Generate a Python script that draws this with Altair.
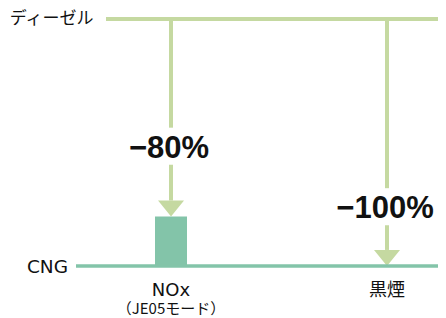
import altair as alt
import pandas as pd

# ---- data ----
categories = ["NOx", "黒煙"]
sub_labels = ["（JE05モード）", ""]
diesel_values = [100, 100]
cng_values = [20, 0]
reduction_labels = ["−80%", "−100%"]
series_names = ["ディーゼル", "CNG"]
series_levels = [100, 0]

# ---- layout constants (value units on the y scale) ----
label_y = [47.5, 23]
GAP = 7.5
ARROW_H = 6.5

DIESEL = "#c5d9a1"
CNG = "#83c4a9"
JP = "Noto Sans CJK JP"
LAT = "DejaVu Sans"
BOLD = "Liberation Sans"
TXT = "#111111"

df = pd.DataFrame({
    "cat": categories,
    "pos": list(range(len(categories))),
    "sub": sub_labels,
    "diesel": diesel_values,
    "cng": cng_values,
    "label": reduction_labels,
    "label_y": label_y,
})
df["seg1_end"] = df["label_y"] + 1 + GAP
df["seg2_start"] = df["label_y"] + 1 - GAP
df["arrow_base"] = df["cng"] + ARROW_H

series = pd.DataFrame({"name": series_names, "level": series_levels})

W, H = 430, 310
xs = alt.Scale(domain=[0, 1], range=[163, 379], padding=0, nice=False, zero=False)
ys = alt.Scale(domain=[0, 100], range=[258, 11], padding=0, nice=False)


def X(f):
    return alt.X(f, scale=xs, axis=None)


def Y(f):
    return alt.Y(f, scale=ys, axis=None)


base = alt.Chart(df)
diesel_s = alt.Chart(series[series["name"] == "ディーゼル"])
cng_s = alt.Chart(series[series["name"] == "CNG"])

diesel_line = diesel_s.mark_rule(color=DIESEL, strokeWidth=4).encode(
    x=alt.value(98), x2=alt.value(W), y=Y("level:Q"))

cng_line = cng_s.mark_rule(color=CNG, strokeWidth=3.5).encode(
    x=alt.value(68), x2=alt.value(W), y=Y("level:Q"))

diesel_text = diesel_s.mark_text(
    align="right", baseline="middle", fontSize=17, font=JP, color=TXT
).encode(x=alt.value(85.5), y=Y("level:Q"), text="name:N")

cng_text = cng_s.mark_text(
    align="right", baseline="middle", fontSize=18.5, font=LAT, color=TXT, dy=1
).encode(x=alt.value(60), y=Y("level:Q"), text="name:N")

bars = base.transform_filter("datum.cng > 0").mark_bar(size=32, color=CNG).encode(
    x=X("pos:Q"), y=Y("cng:Q"), y2=alt.datum(0)
)

seg1 = base.mark_rule(color=DIESEL, strokeWidth=4).encode(
    x=X("pos:Q"), y=Y("diesel:Q"), y2="seg1_end:Q"
)
seg2 = base.mark_rule(color=DIESEL, strokeWidth=4).encode(
    x=X("pos:Q"), y=Y("seg2_start:Q"), y2="arrow_base:Q"
)
arrows = base.mark_point(
    shape="M-1,-1.2308L1,-1.2308L0,0Z", size=676, filled=True,
    color=DIESEL, opacity=1, strokeWidth=0
).encode(x=X("pos:Q"), y=Y("cng:Q"))

pct = base.mark_text(
    align="center", baseline="middle", fontSize=31, fontWeight="bold",
    font=BOLD, color=TXT, dx=-2
).encode(x=X("pos:Q"), y=Y("label_y:Q"), text="label:N")

cat_lat = base.transform_filter("datum.cat == 'NOx'").mark_text(
    align="center", baseline="alphabetic", fontSize=18, font=LAT, color=TXT
).encode(x=X("pos:Q"), y=alt.value(288), text="cat:N")

cat_jp = base.transform_filter("datum.cat != 'NOx'").mark_text(
    align="center", baseline="alphabetic", fontSize=18, font=JP, color=TXT
).encode(x=X("pos:Q"), y=alt.value(288), text="cat:N")

sub_text = base.mark_text(
    align="center", baseline="alphabetic", fontSize=15, font=JP, color=TXT
).encode(x=X("pos:Q"), y=alt.value(306), text="sub:N")

chart = alt.layer(
    seg1, seg2, arrows, bars, diesel_line, cng_line, diesel_text, cng_text,
    pct, cat_lat, cat_jp, sub_text
).properties(
    width=W, height=H, padding=0,
    autosize=alt.AutoSizeParams(type="none"),
    background="white",
).configure_view(stroke=None)

chart.save("out.html", embed_options={"renderer": "svg", "actions": False})
